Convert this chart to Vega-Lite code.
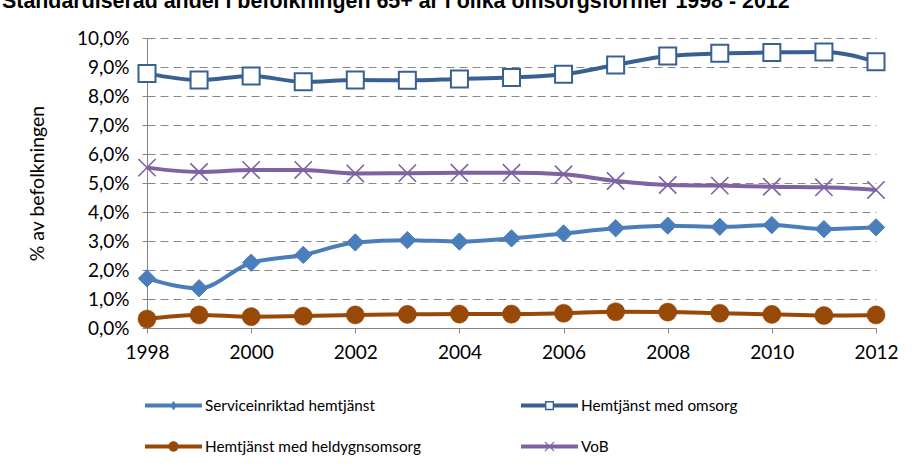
{
  "$schema": "https://vega.github.io/schema/vega-lite/v6.json",
  "width": 729,
  "height": 290,
  "autosize": {"type": "none"},
  "padding": {"left": 147, "top": 38, "right": 40, "bottom": 147},
  "background": "white",
  "title": {
    "text": "Standardiserad andel i befolkningen 65+ år i olika omsorgsformer 1998 - 2012",
    "font": "Liberation Sans",
    "fontWeight": "bold",
    "fontSize": 21.4,
    "color": "#000000",
    "orient": "none",
    "anchor": "start",
    "align": "left",
    "baseline": "alphabetic",
    "dx": -145,
    "dy": -30
  },
  "config": {
    "view": {"stroke": null},
    "axis": {
      "labelFont": "Lato",
      "labelFontSize": 19,
      "labelColor": "#000000",
      "titleFont": "Lato",
      "titleFontSize": 19.5,
      "titleFontWeight": "normal",
      "titleColor": "#000000",
      "domainColor": "#868686",
      "tickColor": "#868686",
      "tickSize": 5
    },
    "legend": {
      "orient": "none",
      "legendX": -2,
      "legendY": 339,
      "columns": 2,
      "columnPadding": 100,
      "rowPadding": 4,
      "padding": 0,
      "labelFont": "Lato",
      "labelFontSize": 15.3,
      "labelColor": "#000000",
      "labelLimit": 400,
      "labelOffset": 3,
      "symbolSize": 3249,
      "symbolOpacity": 1,
      "symbolStrokeWidth": 0
    }
  },
  "data": {
    "values": [
      {"year": 1998, "series": "Serviceinriktad hemtjänst", "value": 1.71},
      {"year": 1999, "series": "Serviceinriktad hemtjänst", "value": 1.37},
      {"year": 2000, "series": "Serviceinriktad hemtjänst", "value": 2.25},
      {"year": 2001, "series": "Serviceinriktad hemtjänst", "value": 2.52},
      {"year": 2002, "series": "Serviceinriktad hemtjänst", "value": 2.95},
      {"year": 2003, "series": "Serviceinriktad hemtjänst", "value": 3.03},
      {"year": 2004, "series": "Serviceinriktad hemtjänst", "value": 2.98},
      {"year": 2005, "series": "Serviceinriktad hemtjänst", "value": 3.09},
      {"year": 2006, "series": "Serviceinriktad hemtjänst", "value": 3.26},
      {"year": 2007, "series": "Serviceinriktad hemtjänst", "value": 3.44},
      {"year": 2008, "series": "Serviceinriktad hemtjänst", "value": 3.53},
      {"year": 2009, "series": "Serviceinriktad hemtjänst", "value": 3.49},
      {"year": 2010, "series": "Serviceinriktad hemtjänst", "value": 3.55},
      {"year": 2011, "series": "Serviceinriktad hemtjänst", "value": 3.41},
      {"year": 2012, "series": "Serviceinriktad hemtjänst", "value": 3.47},
      {"year": 1998, "series": "Hemtjänst med omsorg", "value": 8.78},
      {"year": 1999, "series": "Hemtjänst med omsorg", "value": 8.55},
      {"year": 2000, "series": "Hemtjänst med omsorg", "value": 8.69},
      {"year": 2001, "series": "Hemtjänst med omsorg", "value": 8.49},
      {"year": 2002, "series": "Hemtjänst med omsorg", "value": 8.55},
      {"year": 2003, "series": "Hemtjänst med omsorg", "value": 8.54},
      {"year": 2004, "series": "Hemtjänst med omsorg", "value": 8.59},
      {"year": 2005, "series": "Hemtjänst med omsorg", "value": 8.64},
      {"year": 2006, "series": "Hemtjänst med omsorg", "value": 8.75},
      {"year": 2007, "series": "Hemtjänst med omsorg", "value": 9.07},
      {"year": 2008, "series": "Hemtjänst med omsorg", "value": 9.38},
      {"year": 2009, "series": "Hemtjänst med omsorg", "value": 9.47},
      {"year": 2010, "series": "Hemtjänst med omsorg", "value": 9.5},
      {"year": 2011, "series": "Hemtjänst med omsorg", "value": 9.52},
      {"year": 2012, "series": "Hemtjänst med omsorg", "value": 9.18},
      {"year": 1998, "series": "Hemtjänst med heldygnsomsorg", "value": 0.31},
      {"year": 1999, "series": "Hemtjänst med heldygnsomsorg", "value": 0.45},
      {"year": 2000, "series": "Hemtjänst med heldygnsomsorg", "value": 0.39},
      {"year": 2001, "series": "Hemtjänst med heldygnsomsorg", "value": 0.41},
      {"year": 2002, "series": "Hemtjänst med heldygnsomsorg", "value": 0.45},
      {"year": 2003, "series": "Hemtjänst med heldygnsomsorg", "value": 0.47},
      {"year": 2004, "series": "Hemtjänst med heldygnsomsorg", "value": 0.48},
      {"year": 2005, "series": "Hemtjänst med heldygnsomsorg", "value": 0.48},
      {"year": 2006, "series": "Hemtjänst med heldygnsomsorg", "value": 0.51},
      {"year": 2007, "series": "Hemtjänst med heldygnsomsorg", "value": 0.56},
      {"year": 2008, "series": "Hemtjänst med heldygnsomsorg", "value": 0.55},
      {"year": 2009, "series": "Hemtjänst med heldygnsomsorg", "value": 0.51},
      {"year": 2010, "series": "Hemtjänst med heldygnsomsorg", "value": 0.47},
      {"year": 2011, "series": "Hemtjänst med heldygnsomsorg", "value": 0.43},
      {"year": 2012, "series": "Hemtjänst med heldygnsomsorg", "value": 0.45},
      {"year": 1998, "series": "VoB", "value": 5.53},
      {"year": 1999, "series": "VoB", "value": 5.38},
      {"year": 2000, "series": "VoB", "value": 5.45},
      {"year": 2001, "series": "VoB", "value": 5.45},
      {"year": 2002, "series": "VoB", "value": 5.33},
      {"year": 2003, "series": "VoB", "value": 5.34},
      {"year": 2004, "series": "VoB", "value": 5.35},
      {"year": 2005, "series": "VoB", "value": 5.35},
      {"year": 2006, "series": "VoB", "value": 5.3},
      {"year": 2007, "series": "VoB", "value": 5.07},
      {"year": 2008, "series": "VoB", "value": 4.93},
      {"year": 2009, "series": "VoB", "value": 4.91},
      {"year": 2010, "series": "VoB", "value": 4.87},
      {"year": 2011, "series": "VoB", "value": 4.85},
      {"year": 2012, "series": "VoB", "value": 4.76}
    ]
  },
  "encoding": {
    "x": {
      "field": "year",
      "type": "quantitative",
      "scale": {"domain": [1998, 2012], "nice": false, "zero": false},
      "axis": {
        "title": null,
        "values": [1998, 2000, 2002, 2004, 2006, 2008, 2010, 2012],
        "format": "d",
        "grid": false,
        "labelPadding": 10,
        "labelFlush": false
      }
    },
    "y": {
      "field": "value",
      "type": "quantitative",
      "scale": {"domain": [0, 10], "nice": false},
      "axis": {
        "title": "% av befolkningen",
        "values": [0, 1, 2, 3, 4, 5, 6, 7, 8, 9, 10],
        "labelExpr": "replace(format(datum.value, '.1f'), '.', ',') + '%'",
        "grid": true,
        "gridColor": "#868686",
        "gridDash": [8, 5],
        "gridWidth": 1,
        "labelPadding": 13,
        "titlePadding": 29
      }
    }
  },
  "layer": [
    {
      "mark": {"type": "line", "strokeWidth": 4, "interpolate": "monotone"},
      "encoding": {
        "color": {
          "field": "series",
          "type": "nominal",
          "scale": {
            "domain": ["Serviceinriktad hemtjänst", "Hemtjänst med heldygnsomsorg", "Hemtjänst med omsorg", "VoB"],
            "range": ["#4A7EBB", "#984807", "#386093", "#7F62A1"]
          },
          "legend": {"title": null}
        }
      }
    },
    {
      "mark": {"type": "point", "filled": true, "opacity": 0, "strokeWidth": 0},
      "encoding": {
        "color": {
          "field": "series",
          "type": "nominal",
          "legend": {"title": null}
        },
        "shape": {
          "field": "series",
          "type": "nominal",
          "scale": {
            "domain": ["Serviceinriktad hemtjänst", "Hemtjänst med heldygnsomsorg", "Hemtjänst med omsorg", "VoB"],
            "range": [
              "M-1,-0.07H1V0.07H-1Z M0,-0.16L0.125,0L0,0.16L-0.125,0Z",
              "M-1,-0.07H1V0.07H-1Z M-0.18,0A0.18,0.18,0,1,1,0.18,0A0.18,0.18,0,1,1,-0.18,0Z",
              "M-1,-0.07H-0.16V0.07H-1Z M0.16,-0.07H1V0.07H0.16Z M-0.16,-0.16H0.16V0.16H-0.16Z M-0.11,-0.11V0.11H0.11V-0.11Z",
              "M-1,-0.07H1V0.07H-1Z M-0.145,-0.175L0.175,0.145L0.145,0.175L-0.175,-0.145Z M0.175,-0.145L-0.145,0.175L-0.175,0.145L0.145,-0.175Z"
            ]
          },
          "legend": {"title": null}
        }
      }
    },
    {
      "transform": [{"filter": "datum.series === 'Serviceinriktad hemtjänst'"}],
      "mark": {"type": "point", "shape": "diamond", "filled": true, "fill": "#4A7EBB", "stroke": "#4A7EBB", "strokeWidth": 1, "size": 300, "opacity": 1}
    },
    {
      "transform": [{"filter": "datum.series === 'Hemtjänst med omsorg'"}],
      "mark": {"type": "point", "shape": "square", "filled": true, "fill": "#FFFFFF", "stroke": "#386093", "strokeWidth": 2, "size": 289, "opacity": 1}
    },
    {
      "transform": [{"filter": "datum.series === 'Hemtjänst med heldygnsomsorg'"}],
      "mark": {"type": "point", "shape": "circle", "filled": true, "fill": "#984807", "stroke": "#984807", "strokeWidth": 0.5, "size": 330, "opacity": 1}
    },
    {
      "transform": [{"filter": "datum.series === 'VoB'"}],
      "mark": {"type": "point", "shape": "M-1,-1L1,1M1,-1L-1,1", "filled": false, "stroke": "#7F62A1", "strokeWidth": 1.6, "size": 300, "opacity": 1}
    }
  ]
}
